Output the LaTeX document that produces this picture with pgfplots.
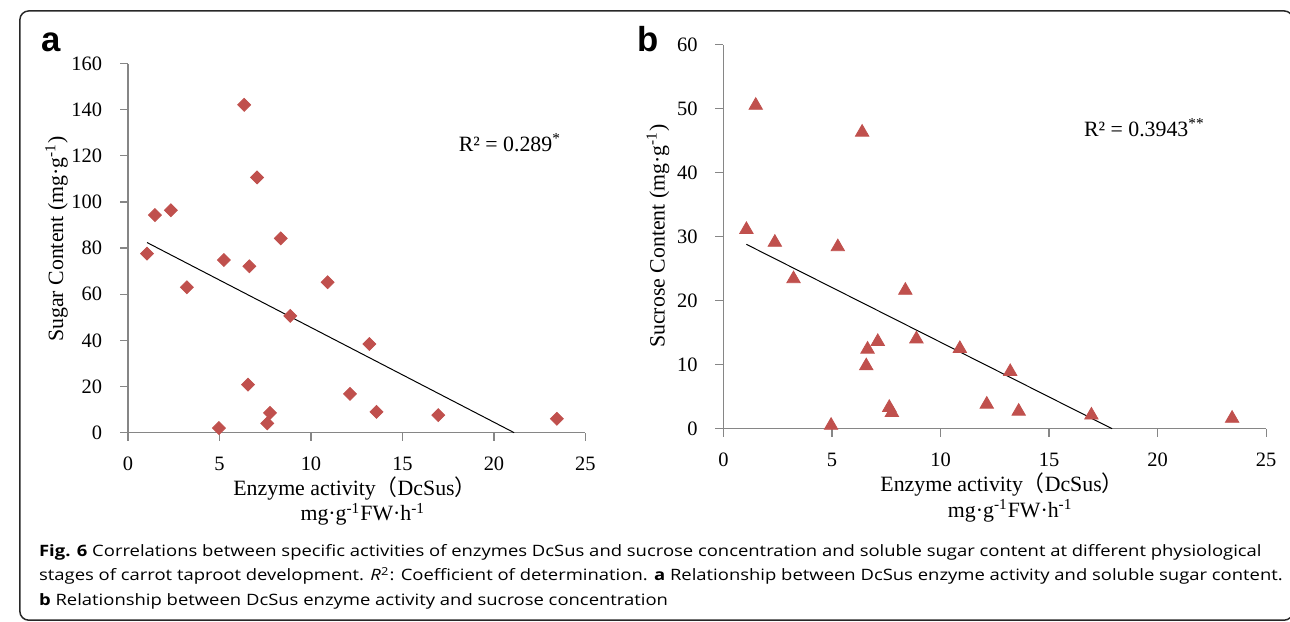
\documentclass[border=0pt]{standalone}
\usepackage{fontspec}
\usepackage{pgfplots}
\pgfplotsset{compat=1.18}
\setmainfont{Liberation Serif}
\newfontfamily\cjk{Noto Sans CJK SC}
\newfontfamily\capfont{Open Sans}
\newfontfamily\panelfont{Liberation Sans}
\newcommand\chartfont{\fontsize{10.3}{12}\selectfont}
\newcommand\labelfont{\fontsize{11}{13}\selectfont}
\definecolor{mkred}{RGB}{192,80,77}
\definecolor{axgray}{RGB}{134,134,134}
\definecolor{framegray}{RGB}{40,40,40}

\pgfplotsset{
  excel/.style={
    scale only axis, clip=false,
    axis x line*=bottom, axis y line*=left,
    axis line style={axgray, line width=0.6pt},
    every tick/.style={axgray, line width=0.6pt},
    tick align=outside, major tick length=4pt,
    xmin=0, xmax=25, ymin=0, xtick={0,5,...,25},
    ticklabel style={font=\chartfont},
    /pgf/number format/assume math mode=true,
    xticklabel style={yshift=-4.6pt},
    yticklabel style={xshift=-5.5pt},
  },
}

\newsavebox\capbox
\newcommand\capone{\textbf{Fig. 6} Correlations between specific activities of enzymes DcSus and sucrose concentration and soluble sugar content at different physiological}
\newcommand\capsize{\capfont\fontsize{7.9}{9}\selectfont}

\begin{document}
\sbox\capbox{\capsize\capone}
\pgfmathsetmacro\capscale{616pt/\the\wd\capbox}
\begin{tikzpicture}
\begin{scope}[x=0.5pt,y=-0.5pt]
\useasboundingbox (0,0) rectangle (1290,626);
\clip (0,0) rectangle (1290,626);
\draw[framegray, line width=0.75pt, rounded corners=4.5pt] (10,11) rectangle (1293,625);
\end{scope}

% a: soluble sugar
\begin{axis}[excel,
    at={(59.5pt,-218pt)}, anchor=south west,
    width=230.5pt, height=186pt,
    ymax=160, ytick={0,20,...,160}]
\addplot[only marks, mark=square*, mark size=2.3pt,
    mark options={rotate=45, fill=mkred, draw=mkred}]
  coordinates {(1.04,77.6) (1.47,94.3) (2.34,96.4) (3.22,63.0) (4.97,2.0)
    (5.24,74.8) (6.35,142.1) (6.56,20.8) (6.63,72.1) (7.05,110.6)
    (7.61,4.0) (7.76,8.6) (8.35,84.2) (8.87,50.6) (10.91,65.2)
    (12.13,16.8) (13.19,38.4) (13.58,9.0) (16.96,7.6) (23.44,6.0)};
% trend line
\addplot[black, line width=0.5pt] coordinates {(1.04,82.4) (21.1,0)};
\end{axis}

% b: sucrose
\begin{axis}[excel,
    at={(359.5pt,-216pt)}, anchor=south west,
    width=273.5pt, height=193.5pt,
    ymax=60, ytick={0,10,...,60}]
\addplot[only marks, mark=triangle*, mark size=3.9pt,
    mark options={yshift=-0.95pt, fill=mkred, draw=mkred}]
  coordinates {(1.06,31.4) (1.49,50.8) (2.37,29.4) (3.23,23.7) (4.96,0.8)
    (5.27,28.7) (6.39,46.6) (6.58,10.1) (6.64,12.7) (7.11,13.9)
    (7.64,3.6) (7.76,2.8) (8.38,21.9) (8.89,14.3) (10.89,12.8)
    (12.13,4.1) (13.21,9.2) (13.60,3.0) (16.95,2.4) (23.43,1.9)};
\addplot[black, line width=0.5pt] coordinates {(1.06,28.8) (17.9,0)};
\end{axis}

\begin{scope}[x=0.5pt,y=-0.5pt]
% panel letters
\node[anchor=base, inner sep=0pt, font=\panelfont\bfseries\fontsize{17.5}{20}\selectfont] at (41.7,51.7) {a};
\node[anchor=base, inner sep=0pt, font=\panelfont\bfseries\fontsize{17.5}{20}\selectfont] at (643.5,51.7) {b};
% R squared
\node[anchor=base west, inner sep=0pt, font=\labelfont] at (452,152.7) {R² = 0.289\textsuperscript{*}};
\node[anchor=base west, inner sep=0pt, font=\labelfont] at (1082,137.3) {R² = 0.3943\textsuperscript{**}};
% axis titles a
\node[rotate=90, inner sep=0pt, font=\labelfont] at (47,241) {Sugar Content (mg·g\textsuperscript{-1})};
\node[anchor=base, inner sep=0pt, font=\labelfont] at (347.7,499) {Enzyme activity{\cjk （}DcSus{\cjk ）}};
\node[anchor=base, inner sep=0pt, font=\labelfont] at (355.6,525) {mg·g\textsuperscript{-1}FW·h\textsuperscript{-1}};
% axis titles b
\node[rotate=90, inner sep=0pt, font=\labelfont] at (653,238) {Sucrose Content (mg·g\textsuperscript{-1})};
\node[anchor=base, inner sep=0pt, font=\labelfont] at (999.8,495) {Enzyme activity{\cjk （}DcSus{\cjk ）}};
\node[anchor=base, inner sep=0pt, font=\labelfont] at (1008,521.7) {mg·g\textsuperscript{-1}FW·h\textsuperscript{-1}};
% caption
\node[anchor=base west, inner sep=0pt] at (29,560.7) {\scalebox{\capscale}[1]{\capsize\capone}};
\node[anchor=base west, inner sep=0pt] at (29,585.4) {\scalebox{\capscale}[1]{\capsize stages of carrot taproot development. \textit{R}\textsuperscript{2}: Coefficient of determination. \textbf{a} Relationship between DcSus enzyme activity and soluble sugar content.}};
\node[anchor=base west, inner sep=0pt] at (29,610) {\scalebox{\capscale}[1]{\capsize \textbf{b} Relationship between DcSus enzyme activity and sucrose concentration}};
\end{scope}
\end{tikzpicture}
\end{document}
